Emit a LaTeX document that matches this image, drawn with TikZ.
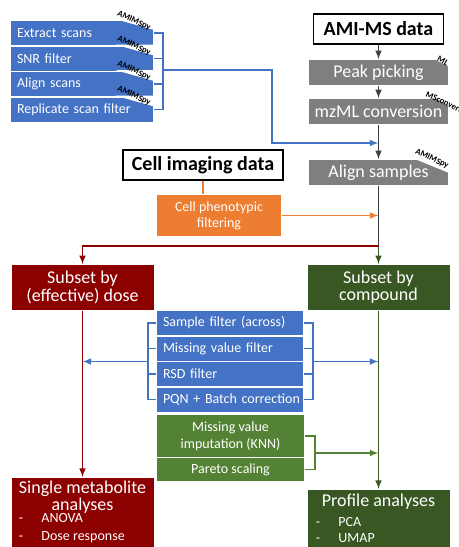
\documentclass[tikz,border=0pt]{standalone}
\usepackage{fontspec}
\setmainfont{Carlito}
\usepackage{tikz}
\usetikzlibrary{arrows}
\definecolor{boxblue}{RGB}{68,114,196}
\definecolor{boxgrey}{RGB}{127,127,127}
\definecolor{boxorange}{RGB}{237,125,49}
\definecolor{darkred}{RGB}{140,0,0}
\definecolor{darkgreen}{RGB}{56,87,35}
\definecolor{midgreen}{RGB}{84,130,53}
\definecolor{arrowgrey}{RGB}{64,64,64}
\tikzstyle{datahead}=[draw=black,fill=white,line width=1pt,
font=\fontsize{15}{15}\selectfont\bfseries,inner sep=0pt,minimum height=22.5pt]
\tikzstyle{scanstep}=[fill=boxblue,text=white,font=\fontsize{10.5}{12}\selectfont,
align=left,inner xsep=4.5pt,inner ysep=0pt,text width=97.5pt,minimum height=18pt]
\tikzstyle{filtstep}=[fill=boxblue,text=white,font=\fontsize{10.5}{12}\selectfont,
align=left,inner xsep=4.5pt,inner ysep=0pt,text width=100.5pt,minimum height=18pt]
\tikzstyle{normstep}=[fill=midgreen,text=white,font=\fontsize{10.5}{12.75}\selectfont,
align=center,inner sep=0pt,minimum width=110.25pt]
\tikzstyle{greystep}=[fill=boxgrey,text=white,font=\fontsize{13.5}{14}\selectfont,
inner sep=0pt,minimum width=104.25pt,minimum height=18.75pt]
\tikzstyle{subsetbox}=[text=white,font=\fontsize{13.5}{13}\selectfont,align=center,
inner sep=0pt,minimum width=106.5pt,minimum height=33.75pt]
\tikzstyle{analysisbox}=[anchor=north,inner sep=0pt,minimum width=106.5pt,minimum height=60pt]
\tikzstyle{tagtext}=[font=\fontsize{6.5}{6.5}\selectfont\bfseries,inner sep=0pt,rotate=-25]
\newcommand{\cutcorner}[3]{\fill[white] (#1.north east) ++(-#2,-1) -- ++(#2+1,0) -- ++(0,#3+1) -- cycle;}
\newcommand{\dashitem}[1]{\makebox[17pt][l]{-}#1}

\begin{document}
\begin{tikzpicture}[x=0.75pt,y=-0.75pt,>=latex,line width=1.2pt]
	\useasboundingbox (0,0) rectangle (459,547);
	
	% AMI-MS branch
	\node (amims) at (378.5,29) [datahead,minimum width=97.5pt] {AMI-MS data};
	\node (peak) at (378.5,72.5) [greystep] {Peak picking};
	\node (mzml) at (378.5,111.5) [greystep] {mzML conversion};
	\node (alignsmp) at (378.5,172.5) [greystep] {Align samples};
	\cutcorner{peak}{16}{8}
	\cutcorner{mzml}{15}{8}
	\cutcorner{alignsmp}{36}{14}
	\node (tagpeak) at (443,61) [tagtext,rotate=-5] {ML};
	\node (tagmzml) at (444,102) [tagtext] {MSconvert};
	\node (tagalign) at (432,159) [tagtext] {AMIMSpy};
	
	% scan processing
	\node (ext) at (82,33) [scanstep] {Extract scans};
	\node (snr) at (82,58.5) [scanstep] {SNR filter};
	\node (aln) at (82,84) [scanstep] {Align scans};
	\node (rep) at (82,109.5) [scanstep] {Replicate scan filter};
	\cutcorner{ext}{38}{10}
	\cutcorner{snr}{38}{10}
	\cutcorner{aln}{38}{10}
	\cutcorner{rep}{38}{10}
	\node (tagext) at (134,21) [tagtext] {AMIMSpy};
	\node (tagsnr) at (134,46) [tagtext] {AMIMSpy};
	\node (tagaln) at (134,71) [tagtext] {AMIMSpy};
	\node (tagrep) at (134,96) [tagtext] {AMIMSpy};
	
	% cell imaging
	\node (cellimg) at (203,165) [datahead,minimum width=120pt] {Cell imaging data};
	\node (phenofilt) at (219,215.5) [fill=boxorange,text=white,font=\fontsize{10.5}{12}\selectfont,
	align=center,inner sep=0pt,minimum width=93pt,minimum height=30.75pt] {Cell phenotypic\\filtering};
	
	% subsets
	\node (dose) at (82.5,287.5) [subsetbox,fill=darkred] {Subset by\\(effective) dose};
	\node (compound) at (378.5,287.5) [subsetbox,fill=darkgreen] {Subset by\\compound};
	
	% shared filters
	\node (samplefilt) at (230,323) [filtstep] {Sample filter (across)};
	\node (missfilt) at (230,348.5) [filtstep] {Missing value filter};
	\node (rsdfilt) at (230,374) [filtstep] {RSD filter};
	\node (pqn) at (230,399.5) [filtstep] {\mbox{PQN + Batch correction}};
	\node (knnimp) at (230.5,436) [normstep,minimum height=31.5pt] {Missing value\\imputation (KNN)};
	\node (pareto) at (230.5,469.5) [normstep,minimum height=17.25pt] {Pareto scaling};
	
	% analyses
	\node (single) at (82.5,477) [analysisbox,fill=darkred] {};
	\node (singletitle) at (82.5,497.5) [text=white,align=center,inner sep=0pt,
	font=\fontsize{13.5}{9.75}\selectfont] {Single metabolite\\analyses};
	\node (singlelist) at (18,528) [anchor=west,text=white,align=left,inner sep=0pt,
	font=\fontsize{10.5}{13.5}\selectfont] {\dashitem{ANOVA}\\\dashitem{Dose response}};
	\node (profile) at (378.5,489) [analysisbox,fill=darkgreen] {};
	\node (profiletitle) at (378.5,502) [text=white,inner sep=0pt,
	font=\fontsize{13.5}{14}\selectfont] {Profile analyses};
	\node (profilelist) at (315,530) [anchor=west,text=white,align=left,inner sep=0pt,
	font=\fontsize{10.5}{12}\selectfont] {\dashitem{PCA}\\\dashitem{UMAP}};
	
	\coordinate (topbr) at (163,0);
	\coordinate (topout) at (163,70);
	\coordinate (topbend) at (272,70);
	\coordinate (alignin) at (378.5,143);
	\coordinate (split) at (378.5,246);
	\coordinate (lbr) at (148,0);
	\coordinate (rbr) at (313,0);
	\coordinate (lmid) at (148,361.5);
	\coordinate (rmid) at (313,361.5);
	\coordinate (gbr) at (315,0);
	\coordinate (gmid) at (315,453);
	
	\draw [->,draw=arrowgrey] (amims) to (peak);
	\draw [->,draw=arrowgrey] (peak) to (mzml);
	\draw [->,draw=arrowgrey] (mzml) to (alignsmp);
	\draw [-,draw=boxblue] (ext.east) -- (ext.east -| topbr) -- (rep.east -| topbr) -- (rep.east);
	\draw [-,draw=boxblue] (snr.east) -- (snr.east -| topbr);
	\draw [-,draw=boxblue] (aln.east) -- (aln.east -| topbr);
	\draw [->,draw=boxblue] (topout) -- (topbend) |- (alignin);
	\draw [-,draw=boxorange] (cellimg.south) -- (cellimg.south |- phenofilt.north);
	\draw [->,draw=boxorange] (phenofilt.east) -- (phenofilt.east -| split);
	\draw [->,draw=darkgreen] (split) to (compound.north);
	\draw [-,draw=arrowgrey] (alignsmp.south) to (split);
	\draw [->,draw=darkred] (split) -| (dose.north);
	\draw [-,draw=boxblue] (samplefilt.west) -- (samplefilt.west -| lbr) -- (pqn.west -| lbr) -- (pqn.west);
	\draw [-,draw=boxblue] (missfilt.west) -- (missfilt.west -| lbr);
	\draw [-,draw=boxblue] (rsdfilt.west) -- (rsdfilt.west -| lbr);
	\draw [-,draw=boxblue] (samplefilt.east) -- (samplefilt.east -| rbr) -- (pqn.east -| rbr) -- (pqn.east);
	\draw [-,draw=boxblue] (missfilt.east) -- (missfilt.east -| rbr);
	\draw [-,draw=boxblue] (rsdfilt.east) -- (rsdfilt.east -| rbr);
	\draw [->,draw=darkred] (dose.south) to (single.north);
	\draw [->,draw=darkgreen] (compound.south) to (profile.north);
	\draw [->,draw=boxblue] (lmid) -- (lmid -| dose.south);
	\draw [->,draw=boxblue] (rmid) -- (rmid -| compound.south);
	\draw [-,draw=midgreen] (knnimp.east) -- (knnimp.east -| gbr) -- (pareto.east -| gbr) -- (pareto.east);
	\draw [->,draw=midgreen] (gmid) -- (gmid -| compound.south);
	
\end{tikzpicture}
\end{document}
